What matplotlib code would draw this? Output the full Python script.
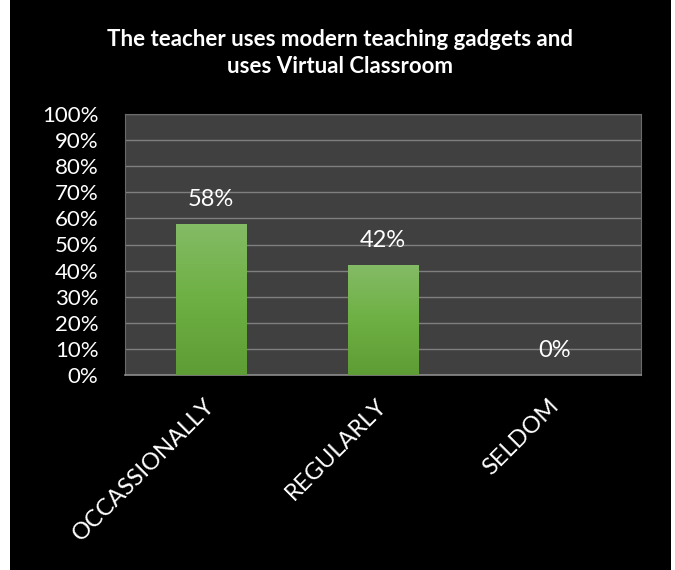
import numpy as np
import matplotlib
matplotlib.use("Agg")
import matplotlib.pyplot as plt
from matplotlib.colors import LinearSegmentedColormap
from matplotlib.patches import Rectangle

categories = ["OCCASSIONALLY", "REGULARLY", "SELDOM"]
values = [58, 42, 0]
title = "The teacher uses modern teaching gadgets and\nuses Virtual Classroom"

plt.rcParams['font.family'] = ['Lato', 'DejaVu Sans']

fig = plt.figure(figsize=(6.75, 5.7), dpi=100, facecolor='white')
# black chart area (white strip on the left and right)
fig.patches.append(Rectangle((10 / 675, 0), 661 / 675, 1, transform=fig.transFigure,
                             facecolor='black', edgecolor='none', zorder=-10))

ax = fig.add_axes([125 / 675, 1 - 375 / 570, 516 / 675, 261 / 570])
ax.set_facecolor('#404040')

x = np.arange(len(categories))
bars = ax.bar(x, values, width=0.41, color='none', edgecolor='none', zorder=3)

# green vertical gradient on each bar
cmap = LinearSegmentedColormap.from_list('grn', ['#5e9c35', '#6eb043', '#84bb66'])
grad = np.linspace(0, 1, 256).reshape(-1, 1)
for b in bars:
    if b.get_height() <= 0:
        continue
    x0, w, h = b.get_x(), b.get_width(), b.get_height()
    im = ax.imshow(grad, cmap=cmap, origin='lower', aspect='auto',
                   extent=[x0, x0 + w, 0, h], zorder=3)
    im.set_clip_path(b)

for xi, v in zip(x, values):
    ax.annotate(f"{v}%", (xi, v), xytext=(0, 10), textcoords='offset points',
                ha='center', va='bottom', color='white', fontsize=17)

ax.set_xlim(-0.5, 2.5)
ax.set_ylim(0, 100)
ax.set_yticks(range(0, 101, 10))
ax.set_yticklabels([f"{t}%" for t in range(0, 101, 10)])
ax.set_xticks(x)
ax.set_xticklabels(categories, rotation=45, ha='right', va='center',
                   rotation_mode='anchor')
ax.tick_params(axis='y', length=0, pad=19, labelcolor='white', labelsize=16)
ax.tick_params(axis='x', length=0, pad=20, labelcolor='white', labelsize=17)

ax.grid(axis='y', color='#7f7f7f', linewidth=1, zorder=1)
ax.set_axisbelow(True)
for s in ax.spines.values():
    s.set_color('#6a6a6a')
ax.spines['bottom'].set_color('#8c8c8c')
ax.spines['bottom'].set_linewidth(1.2)

fig.text(340 / 675, 1 - 53 / 570, title, ha='center', va='center', color='white',
         fontsize=16, fontweight='bold', linespacing=1.3)

fig.savefig("out.png", dpi=100, facecolor=fig.get_facecolor())
